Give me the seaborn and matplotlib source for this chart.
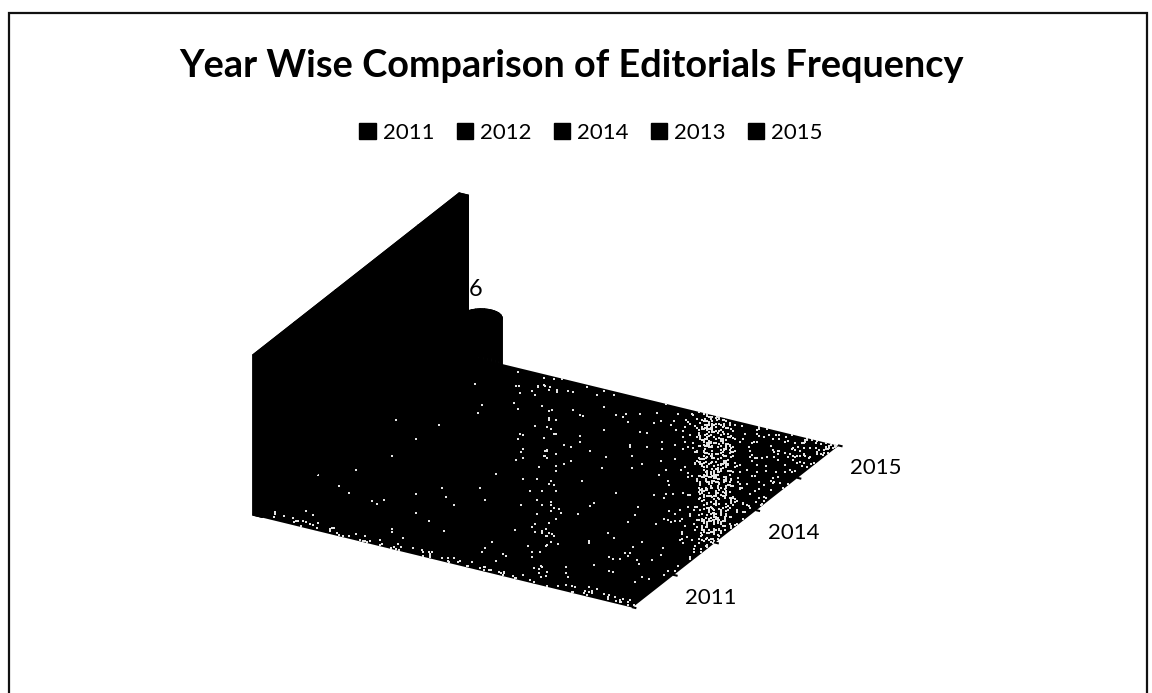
import numpy as np
import matplotlib
matplotlib.use("Agg")
import matplotlib.pyplot as plt
import seaborn as sns
from matplotlib.patches import Patch, Rectangle
from mpl_toolkits.mplot3d import proj3d

# ---- data
series_years = ["2011", "2012", "2014", "2013", "2015"]
depth_labels = ["2011", "", "2014", "", "2015"]
wall_values = [20, 20, 20, 20, 20]
data_label_value = 6

# ---- speckle density of the floor, by horizontal run across the picture (px from the left corner)
speckle_run = [0, 45, 217, 275, 292, 312, 350, 425, 442, 452, 472, 487, 517, 547, 590]
speckle_density = [.02, .004, .002, .008, .07, .012, .006, .02, .10, .33, .33, .07, .05, .14, .26]

sns.set_theme(style="white")
plt.rcParams["font.family"] = ["Lato", "DejaVu Sans"]

W, H = 1152, 693
fig = plt.figure(figsize=(W / 100, H / 100), dpi=100, facecolor="white")

# picture geometry of the chart box
x_run, y_run = 379, 206
corner_targets = {"A": (253, 515), "C": (838, 445)}

ax = fig.add_axes([0.2, 0.1, 0.6, 0.6 * W / H], projection="3d", computed_zorder=False)
ax.set_proj_type("ortho")
ax.view_init(elev=25.9, azim=-60.9)
ax.set_box_aspect((433.6, 424, 178))
ax.set_xlim(0, 1)
ax.set_ylim(0, len(series_years))
ax.set_zlim(0, max(wall_values))
ax.set_axis_off()
ax.patch.set_alpha(0)

n_rows = len(series_years)

# floor
ux, vy = np.meshgrid([0, 1], [0, n_rows])
ax.plot_surface(ux, vy, np.zeros_like(ux, dtype=float), color="black", shade=False,
                linewidth=0, zorder=1)

# speckle: fixed hash threshold of the density profile
nu, nv = 220, 120
uu, vv = np.meshgrid((np.arange(nu) + .5) / nu, (np.arange(nv) + .5) / nv)
ii, jj = np.meshgrid(np.arange(nu), np.arange(nv))
threshold = (np.sin(ii * 12.9898 + jj * 78.233) * 43758.5453) % 1
density = np.interp(uu * x_run + vv * y_run, speckle_run, speckle_density)
density = np.maximum(density, np.where(vv < .035, .12, 0))
mask = threshold < density
ax.scatter(uu[mask], vv[mask] * n_rows, np.zeros(mask.sum()), s=2.4, c="#e4e4e4", marker="s",
           linewidths=0, depthshade=False, zorder=2)

# wall of tall columns along the left side
for r, val in enumerate(wall_values):
    ax.bar3d(0, r, 0, 0.024, 1, val, color="black", edgecolor="black", linewidth=1, shade=False, zorder=4)

# small cylinder carrying the data label
th = np.linspace(0, 2 * np.pi, 60)
zz = np.array([0.0, data_label_value])
T, Z = np.meshgrid(th, zz)
cu, cv, rad = 0.077, 0.965, 21
ax.plot_surface(cu + rad / 433.6 * np.cos(T), (cv + rad / 424 * np.sin(T)) * n_rows, Z,
                color="black", edgecolor="black", shade=False, linewidth=.6, zorder=3)
rr = np.array([0, 1.0])
R, T2 = np.meshgrid(rr, th)
ax.plot_surface(cu + rad / 433.6 * R * np.cos(T2), (cv + rad / 424 * R * np.sin(T2)) * n_rows,
                np.full_like(R, data_label_value), color="black", edgecolor="black", shade=False,
                linewidth=.6, zorder=3)

# depth axis ticks
for r in range(n_rows + 1):
    ax.plot([1, 1.012], [r, r], [0, 0], color="black", lw=1.5, zorder=5, solid_capstyle="butt")

# title, legend, frame
fig.text(571 / W, 1 - 66 / H, "Year Wise Comparison of Editorials Frequency", ha="center",
         va="center", fontsize=27.3, fontweight="bold", color="black")
handles = [Patch(facecolor="black", edgecolor="black", label=y) for y in series_years]
fig.legend(handles=handles, loc="center", bbox_to_anchor=(591 / W, 1 - 133 / H), ncol=5, frameon=False,
           fontsize=16, handlelength=.75, handleheight=.75, handletextpad=.3, columnspacing=1.0,
           labelcolor="black", borderpad=0)
fig.add_artist(Rectangle((9 / W, -0.1), (1147 - 9) / W, 1.1 - 13 / H, transform=fig.transFigure,
                         fill=False, edgecolor="#111111", lw=1.6))


# fit the axes so the box corners land where they are in the picture
def px(x, y, z):
    fig.canvas.draw()
    a, b, _ = proj3d.proj_transform(x, y, z, ax.get_proj())
    return np.array(ax.transData.transform((a, b)))


tA = np.array([corner_targets["A"][0], H - corner_targets["A"][1]], float)
tC = np.array([corner_targets["C"][0], H - corner_targets["C"][1]], float)
for _ in range(3):
    pA, pC = px(0, 0, 0), px(1, n_rows, 0)
    pos = ax.get_position(original=True)
    f = (tC[0] - tA[0]) / (pC[0] - pA[0])
    ax.set_position([pos.x0, pos.y0, pos.width * f, pos.height * f])
    pA = px(0, 0, 0)
    pos = ax.get_position(original=True)
    d = tA - pA
    ax.set_position([pos.x0 + d[0] / W, pos.y0 + d[1] / H, pos.width, pos.height])

# labels placed through the fitted projection
p6 = px(cu, cv * n_rows, data_label_value)
fig.text((p6[0] - 6) / W, (p6[1] + 28) / H, str(data_label_value), color="black", fontsize=17,
         ha="center", va="center")
for r, lab in enumerate(depth_labels):
    if lab:
        p = px(1, r + .5, 0)
        fig.text((p[0] + 33) / W, (p[1] - 7) / H, lab, color="black", fontsize=16, ha="left", va="center")

fig.savefig("out.png", dpi=100)
